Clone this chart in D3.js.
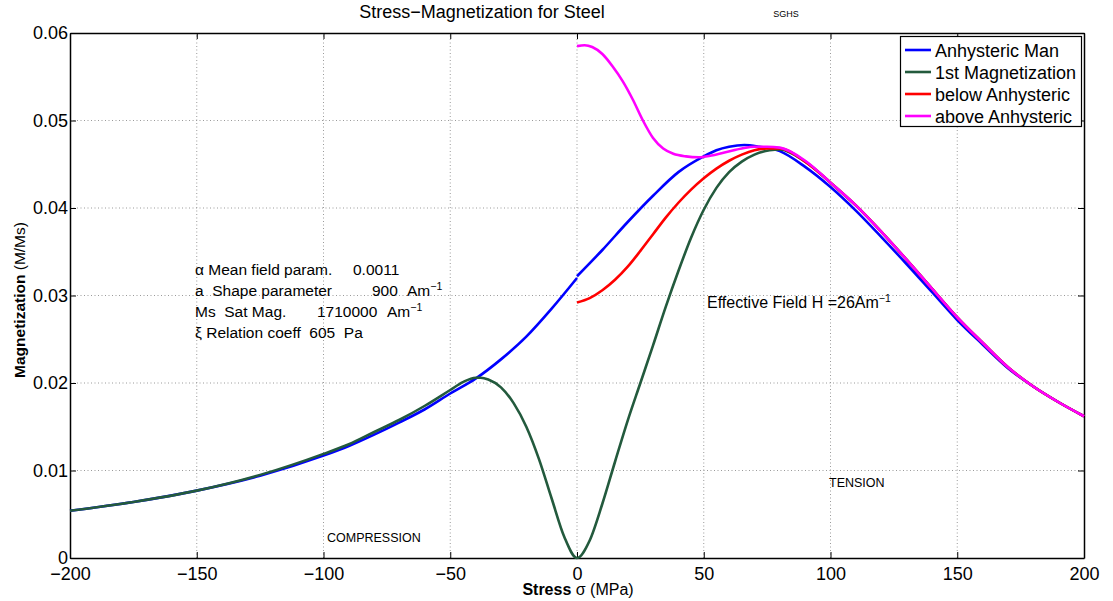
<!DOCTYPE html>
<html>
<head>
<meta charset="utf-8">
<script src="https://cdn.jsdelivr.net/npm/d3@7"></script>
<style>
  body { margin: 0; background: #fff; }
  svg { font-family: "Liberation Sans", Arial, Helvetica, sans-serif; }
</style>
</head>
<body>
<svg id="chart" width="1113" height="601"></svg>
<script>
// Stress (MPa) vs normalized magnetization M/Ms
const xTicks = [-200, -150, -100, -50, 0, 50, 100, 150, 200];
const yTicks = [0, 0.01, 0.02, 0.03, 0.04, 0.05, 0.06];

// Anhysteric curve, compression side (ends at zero stress)
const anhystLeftX = [-200, -175, -150, -125, -100, -90, -80, -70, -60, -50, -40, -30, -20, -10, 0];
const anhystLeftY = [0.0054, 0.0064, 0.0077, 0.0094, 0.0117, 0.0128, 0.0141, 0.0155, 0.0170, 0.0188, 0.0205, 0.0227, 0.0253, 0.0285, 0.0320];
// Anhysteric curve, tension side
const anhystRightX = [0, 10, 20, 30, 40, 50, 55, 60, 66, 72, 80, 90, 100, 110, 120, 130, 140, 150, 160, 170, 180, 190, 200];
const anhystRightY = [0.0322, 0.0352, 0.0384, 0.0414, 0.0441, 0.0459, 0.0466, 0.0470, 0.0472, 0.0470, 0.0465, 0.0447, 0.0424, 0.0397, 0.0367, 0.0336, 0.0304, 0.0272, 0.0244, 0.0217, 0.0196, 0.0178, 0.0162];

// First magnetization curve
const firstMagX = [-200, -175, -150, -125, -100, -90, -80, -70, -60, -50, -45, -40, -38, -35, -30, -25, -20, -15, -10, -5, 0, 5, 10, 15, 20, 25, 30, 35, 40, 45, 50, 55, 60, 65, 70, 76, 80, 90, 100, 110, 120, 130, 140, 150, 160, 170, 180, 190, 200];
const firstMagY = [0.0054, 0.0064, 0.0077, 0.0095, 0.0119, 0.0130, 0.0144, 0.0158, 0.0174, 0.0192, 0.0201, 0.0206, 0.0206, 0.0204, 0.0195, 0.0177, 0.0150, 0.0113, 0.0068, 0.0024, 0.0000, 0.0020, 0.0062, 0.0110, 0.0157, 0.0200, 0.0243, 0.0287, 0.0328, 0.0366, 0.0398, 0.0423, 0.0441, 0.0453, 0.0461, 0.0466, 0.0467, 0.0453, 0.0429, 0.0403, 0.0373, 0.0341, 0.0308, 0.0275, 0.0246, 0.0218, 0.0196, 0.0178, 0.0162];

// Approach from below the anhysteric
const belowX = [0, 5, 10, 15, 20, 25, 30, 35, 40, 45, 50, 55, 60, 65, 70, 75, 80, 90, 100, 110, 120, 130, 140, 150, 160, 170, 180, 190, 200];
const belowY = [0.0292, 0.0297, 0.0306, 0.0318, 0.0333, 0.0351, 0.0370, 0.0389, 0.0406, 0.0421, 0.0434, 0.0445, 0.0454, 0.0461, 0.0466, 0.0468, 0.0468, 0.0453, 0.0429, 0.0403, 0.0373, 0.0341, 0.0308, 0.0275, 0.0246, 0.0218, 0.0196, 0.0178, 0.0162];

// Approach from above the anhysteric
const aboveX = [0, 3, 6, 10, 14, 18, 22, 26, 30, 34, 38, 43, 48, 53, 59, 65, 70, 75, 80, 90, 100, 110, 120, 130, 140, 150, 160, 170, 180, 190, 200];
const aboveY = [0.0585, 0.0586, 0.0584, 0.0576, 0.0562, 0.0545, 0.0524, 0.0500, 0.0480, 0.0468, 0.0462, 0.0459, 0.0458, 0.0460, 0.0464, 0.0468, 0.0470, 0.0470, 0.0469, 0.0454, 0.0429, 0.0403, 0.0373, 0.0341, 0.0308, 0.0275, 0.0246, 0.0218, 0.0196, 0.0178, 0.0162];

const seriesNames = ["Anhysteric Man", "1st Magnetization", "below Anhysteric", "above Anhysteric"];
const seriesColors = ["#0000ff", "#235a3d", "#ff0000", "#ff00ff"];

const zip = (xs, ys) => xs.map((x, i) => [x, ys[i]]);

const svg = d3.select("#chart");
const margin = { left: 70, right: 29, top: 33, bottom: 43 };
const W = 1113, H = 601;
const x = d3.scaleLinear().domain([-200, 200]).range([margin.left, W - margin.right]);
const y = d3.scaleLinear().domain([0, 0.06]).range([H - margin.bottom, margin.top]);

// dotted grid
const grid = svg.append("g");
grid.selectAll("line.vx").data(xTicks.slice(1, -1)).enter().append("line")
  .attr("x1", d => x(d)).attr("x2", d => x(d))
  .attr("y1", y(0)).attr("y2", y(0.06))
  .attr("stroke", "#9a9a9a").attr("stroke-width", 1).attr("stroke-dasharray", "1,2.5");
grid.selectAll("line.hy").data(yTicks.slice(1, -1)).enter().append("line")
  .attr("y1", d => y(d)).attr("y2", d => y(d))
  .attr("x1", x(-200)).attr("x2", x(200))
  .attr("stroke", "#9a9a9a").attr("stroke-width", 1).attr("stroke-dasharray", "1,2.5");

// axes with inward ticks on all four sides
const fmtY = d => d === 0 ? "0" : d3.format(".2f")(d);
const axB = svg.append("g").attr("transform", `translate(0,${y(0)})`)
  .call(d3.axisBottom(x).tickValues(xTicks).tickSizeInner(-6).tickSizeOuter(0).tickPadding(9)
    .tickFormat(d => d < 0 ? "\u2212" + Math.abs(d) : String(d)));
const axT = svg.append("g").attr("transform", `translate(0,${y(0.06)})`)
  .call(d3.axisTop(x).tickValues(xTicks).tickSizeInner(-6).tickSizeOuter(0).tickFormat(""));
const axL = svg.append("g").attr("transform", `translate(${x(-200)},0)`)
  .call(d3.axisLeft(y).tickValues(yTicks).tickSizeInner(-6).tickSizeOuter(0).tickPadding(2).tickFormat(fmtY));
const axR = svg.append("g").attr("transform", `translate(${x(200)},0)`)
  .call(d3.axisRight(y).tickValues(yTicks).tickSizeInner(-6).tickSizeOuter(0).tickFormat(""));
[axB, axT, axL, axR].forEach(g => {
  g.select(".domain").attr("stroke", "#000").attr("stroke-width", 1.5);
  g.selectAll(".tick line").attr("stroke", "#000").attr("stroke-width", 1);
  g.selectAll("text").attr("font-size", 18).attr("fill", "#000")
    .attr("font-family", "'Liberation Sans', Arial, sans-serif");
});
axB.selectAll("text").attr("dy", "0.71em");

// curves
const line = d3.line().x(d => x(d[0])).y(d => y(d[1])).curve(d3.curveMonotoneX);
const plotG = svg.append("g");
const drawCurve = (pts, color) => plotG.append("path").datum(pts)
  .attr("d", line).attr("fill", "none").attr("stroke", color)
  .attr("stroke-width", 2.6).attr("stroke-linejoin", "round");
drawCurve(zip(anhystLeftX, anhystLeftY), seriesColors[0]);
drawCurve(zip(anhystRightX, anhystRightY), seriesColors[0]);
drawCurve(zip(firstMagX, firstMagY), seriesColors[1]);
drawCurve(zip(belowX, belowY), seriesColors[2]);
drawCurve(zip(aboveX, aboveY), seriesColors[3]);

// title and tags
svg.append("text").attr("x", 482).attr("y", 18).attr("text-anchor", "middle")
  .attr("font-size", 18).text("Stress\u2212Magnetization for Steel");
svg.append("text").attr("x", 786).attr("y", 17).attr("text-anchor", "middle")
  .attr("font-size", 9).text("SGHS");

// axis labels
const xl = svg.append("text").attr("x", 578).attr("y", 595).attr("text-anchor", "middle").attr("font-size", 16);
xl.append("tspan").attr("font-weight", "bold").text("Stress ");
xl.append("tspan").text("\u03c3 (MPa)");
const yl = svg.append("text").attr("transform", "translate(25,300) rotate(-90)")
  .attr("text-anchor", "middle").attr("font-size", 15.5);
yl.append("tspan").attr("font-weight", "bold").text("Magnetization ");
yl.append("tspan").text("(M/Ms)");

// parameter annotations: text pieces placed at fixed columns
const annot = svg.append("g").attr("font-size", 15.5);
const txt = (g, yy) => g.append("text").attr("y", yy).attr("xml:space", "preserve");
const piece = (t, px, s) => t.append("tspan").attr("x", px).text(s);
const supPiece = (t, s) => t.append("tspan").attr("dy", -6).attr("font-size", 10.5).text(s);
let t1 = txt(annot, 275);
piece(t1, 195, "\u03b1 Mean field param."); piece(t1, 353, "0.0011");
let t2 = txt(annot, 296);
piece(t2, 195, "a  Shape parameter"); piece(t2, 372, "900"); piece(t2, 407, "Am"); supPiece(t2, "\u22121");
let t3 = txt(annot, 317);
piece(t3, 195, "Ms  Sat Mag."); piece(t3, 317, "1710000"); piece(t3, 387, "Am"); supPiece(t3, "\u22121");
let t4 = txt(annot, 338);
piece(t4, 195, "\u03be Relation coeff  605  Pa");

const eff = svg.append("text").attr("x", 707).attr("y", 308).attr("font-size", 16);
eff.append("tspan").text("Effective Field H =26Am");
supPiece(eff, "\u22121");
svg.append("text").attr("x", 327).attr("y", 542).attr("font-size", 12.5).text("COMPRESSION");
svg.append("text").attr("x", 829).attr("y", 487).attr("font-size", 12.5).text("TENSION");

// legend
const lg = svg.append("g");
lg.append("rect").attr("x", 900.5).attr("y", 36.5).attr("width", 181).attr("height", 90)
  .attr("fill", "#fff").attr("stroke", "#000").attr("stroke-width", 1.2);
seriesNames.forEach((name, i) => {
  const cy = 50 + i * 22;
  lg.append("line").attr("x1", 905).attr("x2", 931).attr("y1", cy).attr("y2", cy)
    .attr("stroke", seriesColors[i]).attr("stroke-width", 2.6);
  lg.append("text").attr("x", 935).attr("y", cy + 6.5).attr("font-size", 18).text(name);
});
</script>
</body>
</html>
